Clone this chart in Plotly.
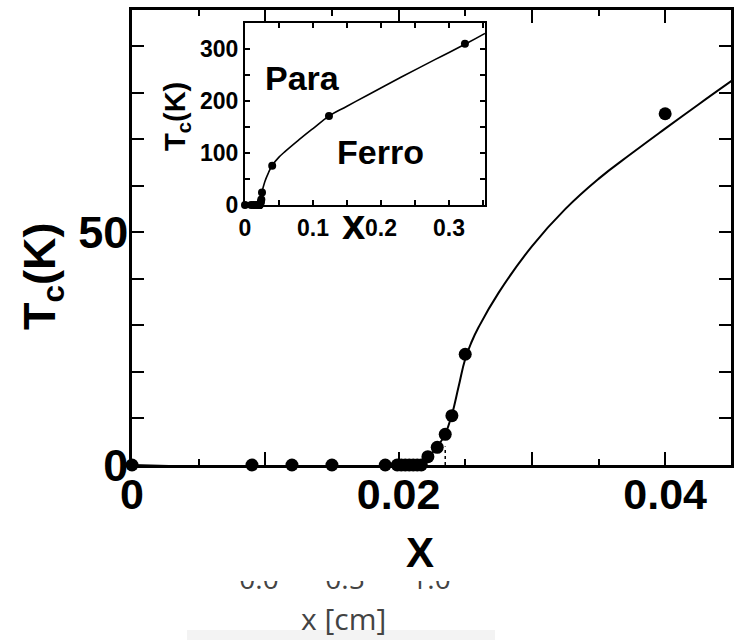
import plotly.graph_objects as go

# ---------------- data ----------------
# main panel: measured Curie temperatures
x_meas = [0.0, 0.009, 0.012, 0.015, 0.019, 0.0199, 0.0202, 0.0205, 0.0208, 0.0211,
          0.0214, 0.0217, 0.0222, 0.0229, 0.0235, 0.0240, 0.0250, 0.0400]
tc_meas = [0, 0, 0, 0, 0, 0, 0, 0, 0, 0,
           0, 0, 1.8, 3.8, 6.6, 10.6, 23.8, 75.5]

# main panel: fitted curve
x_fit = [0.0, 0.0215, 0.0219, 0.0222, 0.0229, 0.0235, 0.0240, 0.0245, 0.0250, 0.0255,
         0.0260, 0.0275, 0.0300, 0.0325, 0.0350, 0.0375, 0.0400, 0.0425, 0.0450]
tc_fit = [0, 0, 0.6, 1.6, 3.9, 6.7, 10.8, 16.8, 22.8, 26.6,
          29.6, 37.0, 47.0, 55.0, 61.5, 67.0, 72.3, 77.5, 82.6]

# dotted marker of the critical concentration
x_crit = [0.0235, 0.0235]
tc_crit = [0, 4]

# inset: extra high-x points and fitted curve
x_ins_extra = [0.1235, 0.3235]
tc_ins_extra = [171, 310]
x_ins_fit = [0.021, 0.0222, 0.0235, 0.025, 0.029, 0.0345, 0.040, 0.050, 0.060, 0.080,
             0.100, 0.1235, 0.150, 0.180, 0.230, 0.280, 0.3235, 0.353]
tc_ins_fit = [0, 2, 7, 24, 44, 62, 76, 92, 104, 126, 147, 171, 190, 211, 246, 280, 309, 330]

# tick definitions
main_x_ticks = [0, 0.01, 0.02, 0.03, 0.04]
main_x_text = ["0", "", "0.02", "", "0.04"]
main_x_minor = [0.005, 0.015, 0.025, 0.035, 0.045]
main_y_ticks = [0, 10, 20, 30, 40, 50, 60, 70, 80, 90]
main_y_text = ["0", "", "", "", "", "50", "", "", "", ""]
ins_x_ticks = [0, 0.1, 0.2, 0.3]
ins_x_text = ["0", "0.1", "0.2", "0.3"]
ins_x_minor = [0.05, 0.15, 0.25, 0.35]
ins_y_ticks = [0, 100, 200, 300]
ins_y_text = ["0", "100", "200", "300"]
ins_y_minor = [50, 150, 250]
cm_ticks = [0.0, 0.5, 1.0]
cm_text = ["0.0", "0.5", "1.0"]

SANS = "Liberation Sans, Arial, Helvetica"
OPEN = "Open Sans, Noto Sans, sans-serif"
W, H = 737, 640


def px(xp):
    return xp / W


def py(yp):
    return (H - yp) / H


fig = go.Figure()

# main panel
fig.add_trace(go.Scatter(x=x_fit, y=tc_fit, mode="lines",
                         line=dict(color="black", width=2, shape="spline", smoothing=1.3),
                         xaxis="x", yaxis="y", showlegend=False, hoverinfo="skip"))
fig.add_trace(go.Scatter(x=x_crit, y=tc_crit, mode="lines", line=dict(color="black", width=1.5, dash="dot"),
                         xaxis="x", yaxis="y", showlegend=False, hoverinfo="skip"))
fig.add_trace(go.Scatter(x=x_meas, y=tc_meas, mode="markers", marker=dict(color="black", size=13),
                         xaxis="x", yaxis="y", showlegend=False, cliponaxis=False))

# inset
fig.add_trace(go.Scatter(x=x_ins_fit, y=tc_ins_fit, mode="lines",
                         line=dict(color="black", width=1.6, shape="spline", smoothing=1.3),
                         xaxis="x2", yaxis="y2", showlegend=False, hoverinfo="skip"))
fig.add_trace(go.Scatter(x=x_meas + x_ins_extra, y=tc_meas + tc_ins_extra, mode="markers",
                         marker=dict(color="black", size=8),
                         xaxis="x2", yaxis="y2", showlegend=False, cliponaxis=False))

# underlying axis (x [cm]) – an empty trace just creates the subplot
fig.add_trace(go.Scatter(x=[], y=[], xaxis="x3", yaxis="y3", showlegend=False))

axis_common = dict(showgrid=False, zeroline=False, showline=True, linecolor="black",
                   mirror="ticks", ticks="inside", tickcolor="black")

ann_common = dict(xref="paper", yref="paper", showarrow=False, xanchor="center", yanchor="middle")

fig.update_layout(
    width=W, height=H, autosize=False,
    margin=dict(l=0, r=0, t=0, b=0, pad=0),
    paper_bgcolor="white", plot_bgcolor="white",
    template="none",
    xaxis=dict(**axis_common, domain=[px(132), px(731)], range=[0, 0.04494],
               linewidth=2.5, tickwidth=2, ticklen=13,
               tickvals=main_x_ticks, ticktext=main_x_text,
               minor=dict(tickvals=main_x_minor, ticks="inside", ticklen=6, tickwidth=2, tickcolor="black"),
               tickfont=dict(family=SANS, size=43, color="black", weight="bold"),
               ticklabelstandoff=-10, anchor="y"),
    yaxis=dict(**axis_common, domain=[py(465), py(10)], range=[0, 97.8],
               linewidth=2.5, tickwidth=2, ticklen=12,
               tickvals=main_y_ticks, ticktext=main_y_text,
               tickfont=dict(family=SANS, size=45, color="black", weight="bold"),
               ticklabelstandoff=-8, anchor="x"),
    xaxis2=dict(**axis_common, domain=[px(245), px(485)], range=[0, 0.353],
                linewidth=2, tickwidth=1.5, ticklen=5,
                tickvals=ins_x_ticks, ticktext=ins_x_text,
                minor=dict(tickvals=ins_x_minor, ticks="inside", ticklen=5, tickwidth=1.5, tickcolor="black"),
                tickfont=dict(family=SANS, size=23, color="black", weight="bold"),
                ticklabelstandoff=1, anchor="y2"),
    yaxis2=dict(**axis_common, domain=[py(205), py(23)], range=[0, 350],
                linewidth=2, tickwidth=1.5, ticklen=5,
                tickvals=ins_y_ticks, ticktext=ins_y_text,
                minor=dict(tickvals=ins_y_minor, ticks="inside", ticklen=5, tickwidth=1.5, tickcolor="black"),
                tickfont=dict(family=SANS, size=23, color="black", weight="bold"),
                ticklabelstandoff=0, anchor="x2"),
    xaxis3=dict(domain=[0, 1], range=[-259 / 172, (W - 259) / 172], anchor="y3",
                showgrid=False, zeroline=False, showline=False, ticks="",
                tickvals=cm_ticks, ticktext=cm_text,
                tickfont=dict(family=OPEN, size=28, color="#444")),
    yaxis3=dict(domain=[py(560), py(540)], visible=False, anchor="x3"),
    shapes=[
        # light grey strip at the very bottom
        dict(type="rect", xref="paper", yref="paper", x0=px(187), x1=px(495), y0=py(640), y1=py(630),
             fillcolor="#f3f3f3", line=dict(width=0), layer="below"),
        # white area of the scanned figure hiding the upper part of the lower tick labels
        dict(type="rect", xref="paper", yref="paper", x0=px(150), x1=px(520), y0=py(581), y1=py(524),
             fillcolor="white", line=dict(width=0), layer="above"),
    ],
    annotations=[
        dict(text="x [cm]", x=px(343), y=0, xref="paper", yref="paper", showarrow=False,
             xanchor="center", yanchor="bottom", borderpad=0,
             font=dict(family=OPEN, size=30, color="#444")),
        dict(text="T<sub>c</sub>(K)", x=px(42), y=py(276), textangle=-90,
             font=dict(family=SANS, size=45, color="black", weight="bold"), **ann_common),
        dict(text="X", x=px(420), y=py(552),
             font=dict(family=SANS, size=42, color="black", weight="bold"), **ann_common),
        dict(text="T<sub>c</sub>(K)", x=px(177), y=py(117), textangle=-90,
             font=dict(family=SANS, size=29, color="black", weight="bold"), **ann_common),
        dict(text="x", x=px(354), y=py(224),
             font=dict(family=SANS, size=42, color="black", weight="bold"), **ann_common),
        dict(text="Para", x=px(302), y=py(78),
             font=dict(family=SANS, size=34, color="black", weight="bold"), **ann_common),
        dict(text="Ferro", x=px(380), y=py(152),
             font=dict(family=SANS, size=34, color="black", weight="bold"), **ann_common),
    ],
)

fig.write_html("out.html")
